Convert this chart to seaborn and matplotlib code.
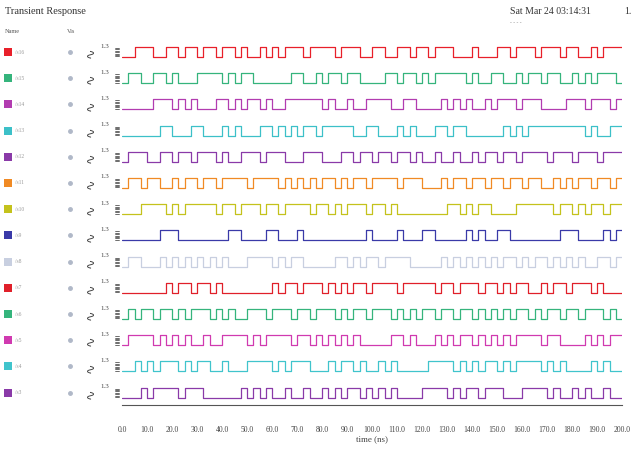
import numpy as np
import pandas as pd
import matplotlib
matplotlib.use("Agg")
import matplotlib.pyplot as plt
import seaborn as sns

# signal names, top to bottom
names = ["/s16", "/s15", "/s14", "/s13", "/s12", "/s11", "/s10",
         "/s9", "/s8", "/s7", "/s6", "/s5", "/s4", "/s3"]

colors = ["#e8202a", "#35b47c", "#b23cb0", "#3cc0c8", "#8a3aa8", "#f08a24",
          "#c4c21c", "#3a3aa8", "#c8cfe0", "#e0202a", "#35b47c", "#d03ab0",
          "#40c4cc", "#8a3aa8"]

# logic levels, 2.5 ns per character over 0..200 ns
bits = [
    "0011100110" "1101101101" "0010101110" "1111011100" "1100110110" "1110001000" "1101110111" "0110010111",
    "0110011010" "0011110101" "1000000110" "0101101100" "0011011010" "1111101001" "1001011011" "0010101110",
    "0000011101" "0100011010" "1101001111" "1101001001" "1110011000" "0101010010" "1110111000" "0111011101",
    "0000001100" "0110001010" "0011010101" "1011111001" "1000101000" "1101100000" "0101011111" "1111010011",
    "0111001101" "1011101001" "1101110001" "1100011011" "0110110100" "1001001011" "0110111101" "1101110111",
    "0110110010" "1101101111" "0111101010" "1011010110" "1111011100" "0101101101" "1011011001" "0101101101",
    "0001111010" "1111101101" "1101101111" "0110101110" "1101000000" "0011010110" "0001111110" "1101011011",
    "0000001110" "0000000110" "0001100010" "0000000001" "0000100011" "0000010100" "1100000000" "1110000101",
    "0110001010" "1010101000" "1111010110" "0000110101" "1011110000" "0101010101" "0110101101" "0101001101",
    "0000000101" "1011010000" "0000101101" "1101010110" "1111011111" "0110111011" "0101100101" "1011101000",
    "0101101101" "0111010100" "1110111011" "0111010110" "1110101011" "0110110101" "0101101011" "0110111010",
    "0111101010" "1001001111" "0101111011" "0101010100" "0001101000" "1010110101" "0101111011" "0000101011",
    "0010101110" "1011001000" "1111010111" "0001011010" "0101000001" "1110101011" "0101111010" "1000010100",
    "0001011110" "1110000001" "0101001001" "0010101101" "0101000011" "1101011011" "1000111101" "0010100100",
]

t_end = 200.0
xticks = np.arange(0, 201, 10)

rows = []
for k, (nm, s) in enumerate(zip(names, bits)):
    v = [int(c) for c in s]
    t = np.arange(len(v)) * t_end / len(v)
    base = 348 - 26.2 * k
    for ti, vi in zip(t, v):
        rows.append((nm, ti, base + 10 * vi))
    rows.append((nm, t_end, base + 10 * v[-1]))
df = pd.DataFrame(rows, columns=["name", "t", "y"])

sns.set_style("white")
plt.rcParams["font.family"] = ["Liberation Serif", "DejaVu Serif"]

W, H = 641, 450
fig = plt.figure(figsize=(W / 100, H / 100), dpi=100)

# waveform axes
ax = fig.add_axes([122 / W, 45 / H, 500 / W, 365 / H])
sns.lineplot(data=df, x="t", y="y", hue="name", palette=colors, hue_order=names,
             drawstyle="steps-post", estimator=None, sort=False, legend=False,
             linewidth=0.9, ax=ax)
ax.set_xlim(0, t_end)
ax.set_ylim(0, 365)
for sp in ["top", "right", "left"]:
    ax.spines[sp].set_visible(False)
ax.spines["bottom"].set_color("#555555")
ax.spines["bottom"].set_linewidth(0.8)
ax.set_yticks([])
ax.set_xticks(xticks)
ax.set_xticklabels([f"{x:.1f}" for x in xticks], fontsize=5.5, color="#444444")
ax.set_xticks(np.arange(0, 201, 1), minor=True)
ax.tick_params(axis="x", which="major", direction="out", length=7, width=0.7,
               color="#777777", pad=8)
ax.tick_params(axis="x", which="minor", direction="out", length=2.5, width=0.5,
               color="#888888")
ax.set_xlabel("time (ns)", fontsize=6.5, color="#444444", labelpad=1)
ax.set_ylabel("")

# overlay for the left-hand panel and header texts
ov = fig.add_axes([0, 0, 1, 1], zorder=-1)
ov.set_xlim(0, W)
ov.set_ylim(H, 0)
ov.axis("off")

ov.text(5, 14, "Transient Response", fontsize=7.5, color="#333333")
ov.text(510, 14, "Sat Mar 24 03:14:31", fontsize=7, color="#333333")
ov.text(624, 14, "1.", fontsize=7, color="#333333")
ov.text(510, 24, "- - - -", fontsize=4, color="#888888")
ov.text(5, 33, "Name", fontsize=4.5, color="#555555")
ov.text(67, 33, "Vis", fontsize=4.5, color="#555555")

for k, (nm, c) in enumerate(zip(names, colors)):
    yc = 52 + 26.2 * k
    ov.add_patch(plt.Rectangle((4, yc - 4), 8, 8, color=c, lw=0))
    ov.text(15, yc, nm, fontsize=4, color="#999999", va="center")
    ov.plot(70, yc, "o", ms=2.5, color="#b0b8c8")
    ov.text(91, yc + 1, "\u223f", fontsize=9, color="#444444", rotation=90,
            ha="center", va="center", family="DejaVu Sans")
    ov.text(100, yc - 6, "1.3", fontsize=5, color="#444444", va="center")
    for j in range(7):
        ov.plot([115, 119], [yc - 4 + 1.4 * j] * 2, color="#333333", lw=0.5)

fig.savefig("out.png", dpi=100)
